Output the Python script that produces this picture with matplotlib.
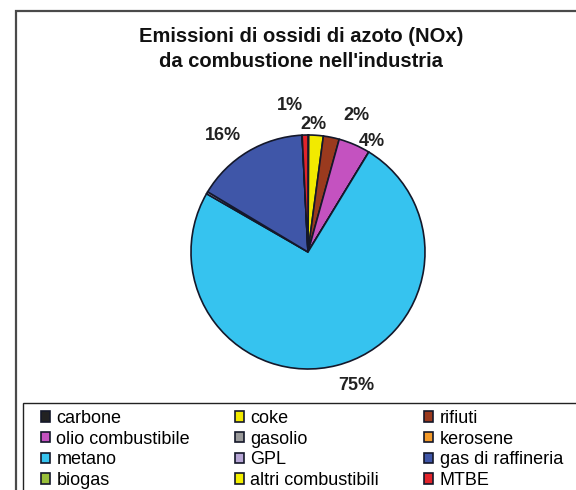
import matplotlib
matplotlib.use('Agg')
import matplotlib.pyplot as plt
from matplotlib.patches import Rectangle
import numpy as np

plt.rcParams['font.family'] = ['Liberation Sans', 'DejaVu Sans']

# NOx emissions from industrial combustion, share by fuel (%)
fuels = ['carbone', 'coke', 'rifiuti', 'olio combustibile', 'gasolio', 'kerosene',
         'metano', 'GPL', 'gas di raffineria', 'biogas', 'altri combustibili', 'MTBE']
shares = [0.1, 2.0, 2.2, 4.4, 0.0, 0.0, 74.6, 0.3, 15.6, 0.0, 0.0, 0.8]
colors = ['#222222', '#f2ea00', '#9a3a1e', '#c452c0', '#9a9a9a', '#f39a2a',
          '#36c3ef', '#b7a6d6', '#3f56a8', '#98bf3a', '#f4f000', '#e2242b']

# label placement tweaks per fuel: (radius factor, angle nudge in degrees)
label_pos = {'coke': (1.09, 1.6), 'rifiuti': (1.24, -7.9), 'olio combustibile': (1.09, -6.4),
             'metano': (1.21, 5.5), 'gas di raffineria': (1.23, 5.2), 'MTBE': (1.26, 5.6)}

W, H = 576, 490
fig = plt.figure(figsize=(W / 100, H / 100), dpi=100)
ax = fig.add_axes([0, 0, 1, 1])

cx, cy, R = 308, H - 252, 117
wedges, _ = ax.pie(shares, colors=colors, startangle=90, counterclock=False,
                   center=(cx, cy), radius=R,
                   wedgeprops=dict(edgecolor='#14182a', linewidth=1.2))

for w, name, s in zip(wedges, fuels, shares):
    if name not in label_pos:
        continue
    f, nudge = label_pos[name]
    ang = np.deg2rad((w.theta1 + w.theta2) / 2 + nudge)
    ax.text(cx + f * R * np.cos(ang), cy + f * R * np.sin(ang), '%.0f%%' % s,
            ha='center', va='center', fontsize=13, fontweight='bold', color='#222222')

ax.text(301, H - 49, "Emissioni di ossidi di azoto (NOx)\nda combustione nell'industria",
        ha='center', va='center', fontsize=14.5, fontweight='bold', linespacing=1.35,
        color='#111111')

# chart frame and legend box
ax.add_patch(Rectangle((16, -20), 700, H - 11 + 20, fill=False, edgecolor='#4a4a4a', lw=1.6))
ax.add_patch(Rectangle((23, -20), 700, H - 403 + 20, fill=False, edgecolor='#222222', lw=1.0))

order = [0, 3, 6, 9, 1, 4, 7, 10, 2, 5, 8, 11]
ax.legend([wedges[i] for i in order], [fuels[i] for i in order], ncol=3,
          loc='upper left', bbox_to_anchor=(41, H - 410), bbox_transform=ax.transData,
          frameon=False, fontsize=13, handlelength=0.5, handleheight=0.5,
          handletextpad=0.35, columnspacing=2.5, labelspacing=0.2,
          borderpad=0, borderaxespad=0)

ax.set_xlim(0, W)
ax.set_ylim(0, H)
ax.axis('off')

fig.savefig('out.png', dpi=100, facecolor='white')
